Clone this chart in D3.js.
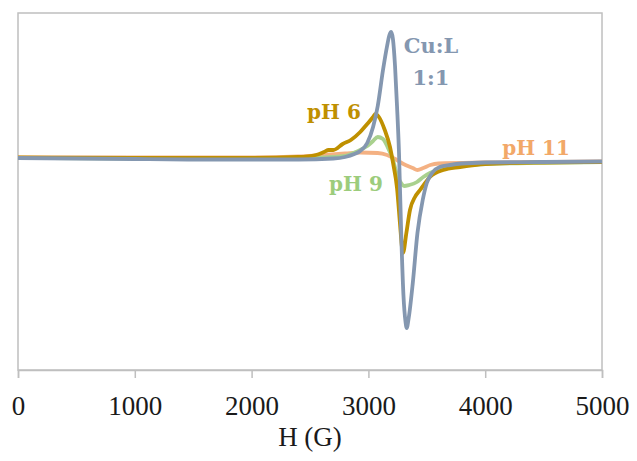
<!DOCTYPE html>
<html>
<head>
<meta charset="utf-8">
<script src="https://cdn.jsdelivr.net/npm/d3@7"></script>
<style>
  html, body { margin: 0; padding: 0; background: #fff; }
</style>
</head>
<body>
<div id="chart"></div>
<script>
// field values (G) and intensity (arb. units) per sample
const cuH = [0, 500, 1000, 1500, 2000, 2400, 2700, 2800, 2880, 2930, 2990, 3040, 3080, 3125, 3160, 3180, 3195, 3210, 3228, 3245, 3262, 3280, 3300, 3318, 3328, 3345, 3380, 3420, 3465, 3500, 3545, 3610, 3700, 3800, 4000, 4500, 5000];
const cuI = [0, -0.5, -1, -1.5, -1.5, -1.5, -0.5, 1, 4, 7, 15, 31, 52, 88, 112, 123, 126, 119, 92, 52, 5, -72, -137, -164, -170, -160, -125, -75, -42, -25, -15, -9, -7, -5.5, -4.5, -4, -3.5];

const ph6H = [0, 1000, 2000, 2400, 2550, 2620, 2660, 2700, 2780, 2850, 2930, 2990, 3040, 3060, 3090, 3140, 3185, 3211, 3245, 3270, 3288, 3296, 3325, 3356, 3399, 3442, 3527, 3640, 3785, 4000, 4500, 5000];
const ph6I = [0.5, 0, 0, 1, 3, 6, 8, 8, 14, 18, 26, 34, 41, 44, 41, 28, 11, -5, -30, -65, -90, -95, -75, -52, -39, -32, -19, -12, -9, -6, -4.5, -4];

const ph9H = [0, 1000, 2000, 2500, 2800, 2870, 2930, 2990, 3040, 3080, 3125, 3160, 3211, 3245, 3280, 3305, 3350, 3416, 3470, 3527, 3640, 3785, 4000, 5000];
const ph9I = [0, -0.5, -0.5, 0, 2, 5, 8, 12, 17, 21, 19, 12, -2, -17, -25, -28, -27, -24, -19, -15, -10, -8, -6, -4];

const ph11H = [0, 1000, 2000, 2400, 2600, 2800, 2930, 3080, 3160, 3230, 3300, 3380, 3420, 3470, 3530, 3600, 4000, 5000];
const ph11I = [0.5, 0.5, 0.5, 1.5, 3, 4.5, 5.5, 5, 3, -1, -6, -10, -12, -10, -7, -5.5, -4.5, -3.5];

const xTicks = [0, 1000, 2000, 3000, 4000, 5000];

// drawing order: bottom to top
const series = [
    { name: "pH 11", h: ph11H, v: ph11I, color: "#f4b183" },
    { name: "pH 9", h: ph9H, v: ph9I, color: "#a9d18e" },
    { name: "pH 6", h: ph6H, v: ph6I, color: "#bf9000" },
    { name: "Cu:L", h: cuH, v: cuI, color: "#8497b0" }
];

const W = 637, H = 461;
const margin = { top: 13, right: 35, bottom: 91, left: 18 };
const width = W - margin.left - margin.right;
const height = H - margin.top - margin.bottom;

const svg = d3.select("#chart").append("svg")
    .attr("width", W)
    .attr("height", H);

const group = svg.append("g")
    .attr("transform", `translate(${margin.left}, ${margin.top})`);

const xScale = d3.scaleLinear().domain([0, 5000]).range([0, width]);
const yScale = d3.scaleLinear().domain([-212, 145]).range([height, 0]);

// frame
group.append("rect")
    .attr("x", 0).attr("y", 0)
    .attr("width", width).attr("height", height)
    .attr("fill", "none")
    .attr("stroke", "#bfbfbf")
    .attr("stroke-width", 1.5);

// x axis
const xAxis = group.append("g")
    .attr("transform", `translate(0, ${height})`)
    .call(d3.axisBottom(xScale).tickValues(xTicks).tickSize(8).tickPadding(18).tickFormat(d3.format("d")));
xAxis.select(".domain").attr("stroke", "#bfbfbf").attr("stroke-width", 1.5);
xAxis.selectAll(".tick line").attr("stroke", "#bfbfbf").attr("stroke-width", 1.5);
xAxis.selectAll(".tick text")
    .attr("fill", "#1a1a1a")
    .style("font-family", "'Liberation Serif', serif")
    .style("font-size", "27px");

// lines
const line = d3.line()
    .x(d => xScale(d[0]))
    .y(d => yScale(d[1]))
    .curve(d3.curveMonotoneX);

series.forEach(s => {
    const pts = s.h.map((h, i) => [h, s.v[i]]);
    group.append("path")
        .datum(pts)
        .attr("d", line)
        .attr("fill", "none")
        .attr("stroke", s.color)
        .attr("stroke-width", 3.8)
        .attr("stroke-linejoin", "round");
});

// series labels
const labels = [
    { text: "Cu:L", x: 431, y: 53, color: "#8497b0" },
    { text: "1:1", x: 431, y: 85, color: "#8497b0" },
    { text: "pH 6", x: 334, y: 119, color: "#bf9000" },
    { text: "pH 9", x: 356, y: 191, color: "#9ccc7c" },
    { text: "pH 11", x: 536, y: 155, color: "#f2a868" }
];
labels.forEach(l => {
    svg.append("text")
        .attr("x", l.x).attr("y", l.y)
        .attr("text-anchor", "middle")
        .attr("fill", l.color)
        .style("font-family", "'DejaVu Serif', serif")
        .style("font-weight", "bold")
        .style("font-size", l.text === "Cu:L" || l.text === "1:1" ? "21px" : "20px")
        .text(l.text);
});

// axis title
svg.append("text")
    .attr("x", margin.left + width / 2)
    .attr("y", 446)
    .attr("text-anchor", "middle")
    .attr("fill", "#1a1a1a")
    .style("font-family", "'Liberation Serif', serif")
    .style("font-size", "27px")
    .text("H (G)");
</script>
</body>
</html>
